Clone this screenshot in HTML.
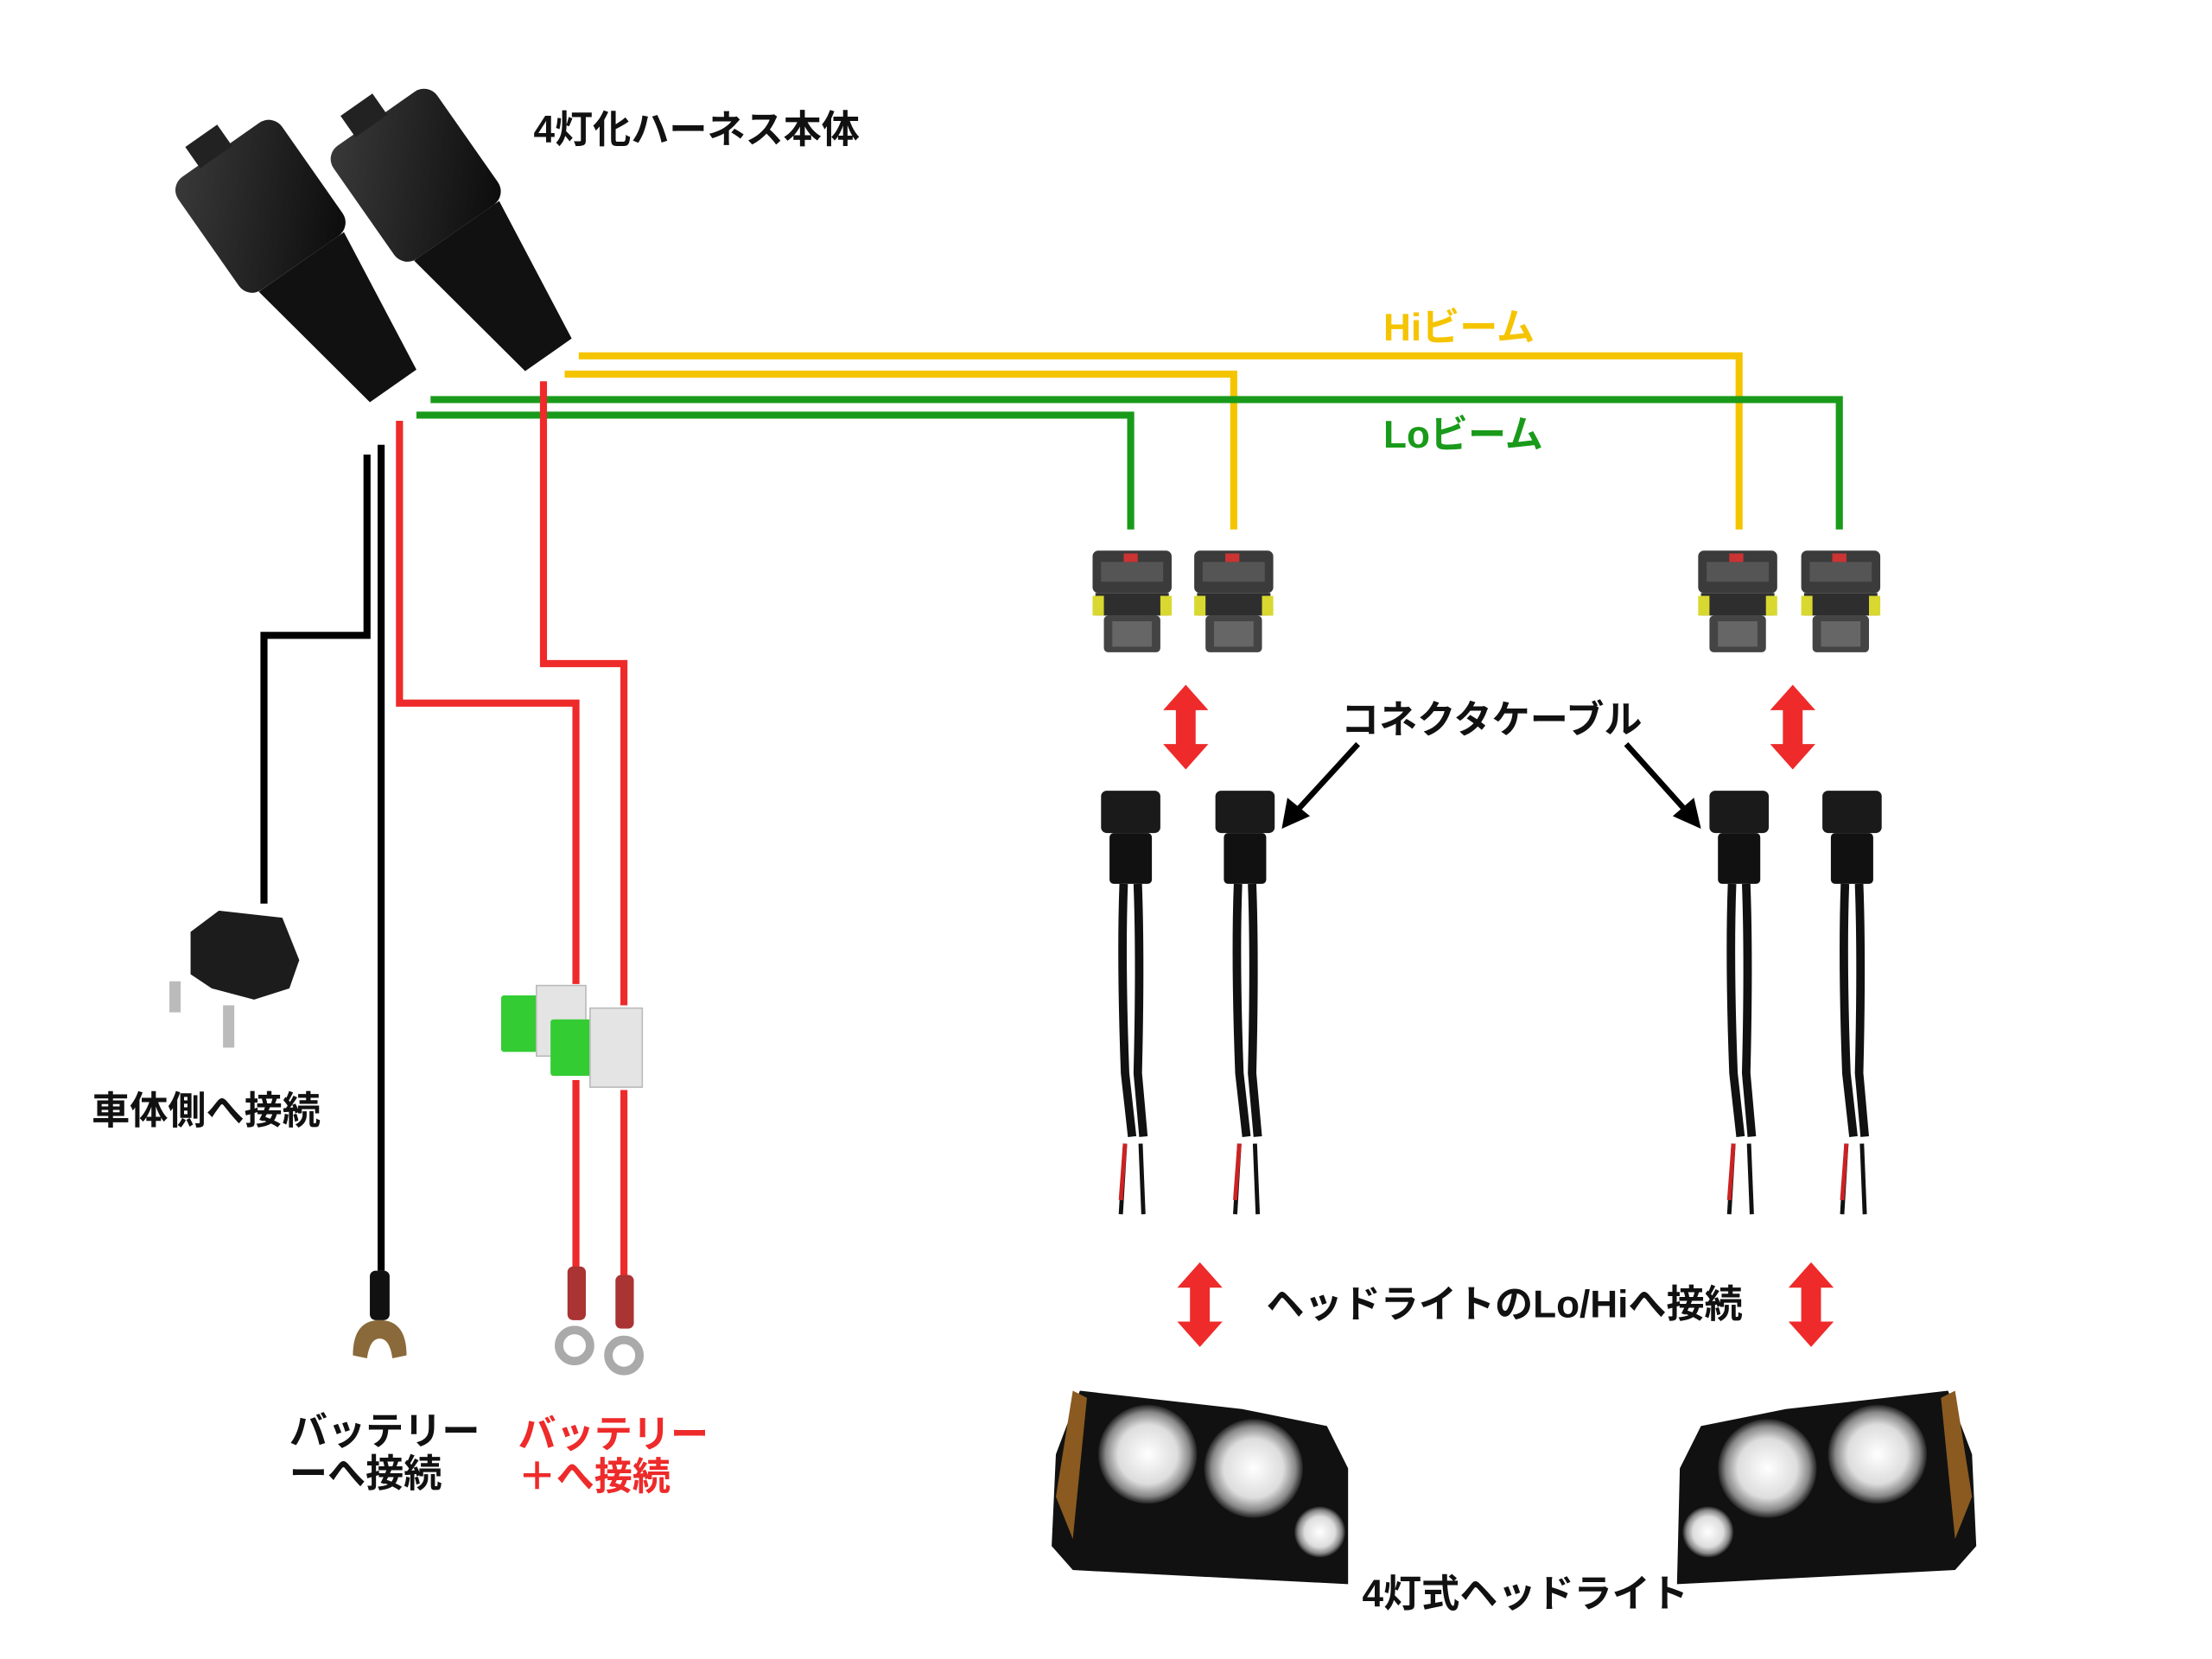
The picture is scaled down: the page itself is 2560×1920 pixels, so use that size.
<!DOCTYPE html>
<html><head><meta charset="utf-8"><style>
html,body{margin:0;padding:0;background:#fff;width:2560px;height:1920px;overflow:hidden}
svg{display:block}
text{font-family:"Liberation Sans","Noto Sans CJK JP",sans-serif;font-weight:bold}
</style></head><body>
<svg width="2560" height="1920" viewBox="0 0 1567 1175" preserveAspectRatio="none" xmlns="http://www.w3.org/2000/svg">
<defs>
<linearGradient id="blk" x1="0" y1="0" x2="1" y2="1"><stop offset="0" stop-color="#3a3a3a"/><stop offset="1" stop-color="#0b0b0b"/></linearGradient>
<radialGradient id="lamp" cx="0.5" cy="0.5" r="0.5"><stop offset="0" stop-color="#fff"/><stop offset="0.6" stop-color="#ddd"/><stop offset="0.85" stop-color="#888"/><stop offset="1" stop-color="#222"/></radialGradient>
<g id="conn">
<rect x="0" y="0" width="56" height="30" rx="4" fill="#3b3b3b"/>
<rect x="6" y="8" width="44" height="14" fill="#555"/>
<rect x="22" y="2" width="10" height="6" fill="#c33"/>
<rect x="2" y="30" width="52" height="16" fill="#2e2e2e"/>
<rect x="0" y="32" width="8" height="14" fill="#d8d830"/>
<rect x="48" y="32" width="8" height="14" fill="#d8d830"/>
<rect x="8" y="46" width="40" height="26" rx="3" fill="#444"/>
<rect x="14" y="50" width="28" height="18" fill="#666"/>
</g>
<g id="cable">
<rect x="0" y="0" width="42" height="30" rx="4" fill="#1a1a1a"/>
<rect x="6" y="30" width="30" height="36" rx="3" fill="#111"/>
<path d="M16 66 Q14 120 17 200 L22 245 M26 66 Q28 120 26 200 L30 245" stroke="#111" stroke-width="6" fill="none"/>
<path d="M17 250 L14 300 M28 250 L30 300" stroke="#111" stroke-width="3" fill="none"/>
<path d="M17 250 L14 290" stroke="#c22" stroke-width="3"/>
</g>
<g id="arr">
<polygon points="0,-30 -16,-12 -7,-12 -7,12 -16,12 0,30 16,12 7,12 7,-12 16,-12" fill="#ee2a2a"/>
</g>
<g id="box">
<rect x="-30" y="0" width="78" height="85" rx="10" fill="url(#blk)"/>
<path d="M-22 85 L42 85 L30 180 L-5 180 Z" fill="#111"/>
<rect x="-8" y="-14" width="24" height="16" fill="#222"/>
</g>
</defs>

<use href="#box" transform="translate(148,112) rotate(-35) scale(1.15)"/>
<use href="#box" transform="translate(258,90) rotate(-35) scale(1.15)"/>

<g fill="none" stroke-width="5">
<polyline points="410,252 1232,252 1232,375" stroke="#f5c400"/>
<polyline points="400,265 874,265 874,375" stroke="#f5c400"/>
<polyline points="305,283 1303,283 1303,375" stroke="#1a9a1a"/>
<polyline points="295,294 801,294 801,375" stroke="#1a9a1a"/>
<polyline points="385,270 385,470 442,470 442,712" stroke="#ee2a2a"/>
<line x1="442" y1="772" x2="442" y2="905" stroke="#ee2a2a"/>
<polyline points="283,298 283,498 408,498 408,697" stroke="#ee2a2a"/>
<line x1="408" y1="765" x2="408" y2="900" stroke="#ee2a2a"/>
<line x1="270" y1="315" x2="270" y2="900" stroke="#000"/>
<polyline points="260,322 260,450 187,450 187,640" stroke="#000"/>
</g>

<path d="M135 660 L155 645 L200 650 L212 680 L205 700 L180 708 L150 700 L135 690 Z" fill="#1c1c1c"/>
<rect x="120" y="695" width="8" height="22" fill="#bbb"/><rect x="158" y="712" width="8" height="30" fill="#bbb"/>

<rect x="355" y="705" width="30" height="40" fill="#3c3" rx="2"/>
<rect x="380" y="698" width="35" height="50" fill="#e4e4e4" stroke="#bbb"/>
<rect x="390" y="722" width="30" height="40" fill="#3c3" rx="2"/>
<rect x="418" y="714" width="37" height="56" fill="#e4e4e4" stroke="#bbb"/>

<rect x="262" y="900" width="14" height="35" rx="4" fill="#111"/>
<path d="M250 960 Q250 935 269 935 Q288 935 288 960 L278 962 Q276 948 269 948 Q262 948 260 962 Z" fill="#8a6a3a"/>
<rect x="402" y="897" width="13" height="38" rx="4" fill="#a33"/>
<circle cx="407" cy="953" r="11" fill="none" stroke="#aaa" stroke-width="6"/>
<rect x="436" y="903" width="13" height="38" rx="4" fill="#a33"/>
<circle cx="442" cy="960" r="11" fill="none" stroke="#aaa" stroke-width="6"/>

<use href="#conn" x="774" y="390"/>
<use href="#conn" x="846" y="390"/>
<use href="#conn" x="1203" y="390"/>
<use href="#conn" x="1276" y="390"/>

<use href="#arr" x="840" y="515"/>
<use href="#arr" x="1270" y="515"/>
<use href="#arr" x="850" y="924"/>
<use href="#arr" x="1283" y="924"/>

<use href="#cable" x="780" y="560"/>
<use href="#cable" x="861" y="560"/>
<use href="#cable" x="1211" y="560"/>
<use href="#cable" x="1291" y="560"/>

<line x1="962" y1="527" x2="918" y2="575" stroke="#000" stroke-width="4"/>
<polygon points="908,587 912,565 928,578" fill="#000"/>
<line x1="1152" y1="527" x2="1195" y2="575" stroke="#000" stroke-width="4"/>
<polygon points="1205,587 1185,578 1200,565" fill="#000"/>

<path d="M765 985 L880 998 L940 1010 L955 1040 L955 1122 L760 1112 L745 1095 L748 1030 Z" fill="#111"/>
<path d="M748 1060 L760 985 L770 990 L760 1090 Z" fill="#8a5a20"/>
<circle cx="813" cy="1030" r="35" fill="url(#lamp)"/>
<circle cx="888" cy="1040" r="35" fill="url(#lamp)"/>
<circle cx="935" cy="1085" r="18" fill="url(#lamp)"/>
<path d="M1380 985 L1265 998 L1205 1010 L1190 1040 L1188 1122 L1385 1112 L1400 1095 L1397 1030 Z" fill="#111"/>
<path d="M1397 1060 L1385 985 L1375 990 L1385 1090 Z" fill="#8a5a20"/>
<circle cx="1252" cy="1040" r="35" fill="url(#lamp)"/>
<circle cx="1330" cy="1030" r="35" fill="url(#lamp)"/>
<circle cx="1210" cy="1085" r="18" fill="url(#lamp)"/>

<text x="378" y="101" font-size="27" fill="#111">4灯化ハーネス本体</text>
<text x="980" y="241" font-size="27" fill="#f5c400">Hiビーム</text>
<text x="980" y="317" font-size="27" fill="#1a9a1a">Loビーム</text>
<text x="950" y="519" font-size="27" fill="#111">コネクタケーブル</text>
<text x="65" y="796" font-size="27" fill="#111">車体側へ接続</text>
<text x="205" y="1023" font-size="27" fill="#111">バッテリー</text>
<text x="205" y="1053" font-size="27" fill="#111">ーへ接続</text>
<text x="367" y="1025" font-size="27" fill="#ee2a2a">バッテリー</text>
<text x="367" y="1055" font-size="27" fill="#ee2a2a">＋へ接続</text>
<text x="897" y="933" font-size="27" fill="#111">ヘッドライトのLo/Hiへ接続</text>
<text x="965" y="1138" font-size="27" fill="#111">4灯式ヘッドライト</text>
</svg>
</body></html>
